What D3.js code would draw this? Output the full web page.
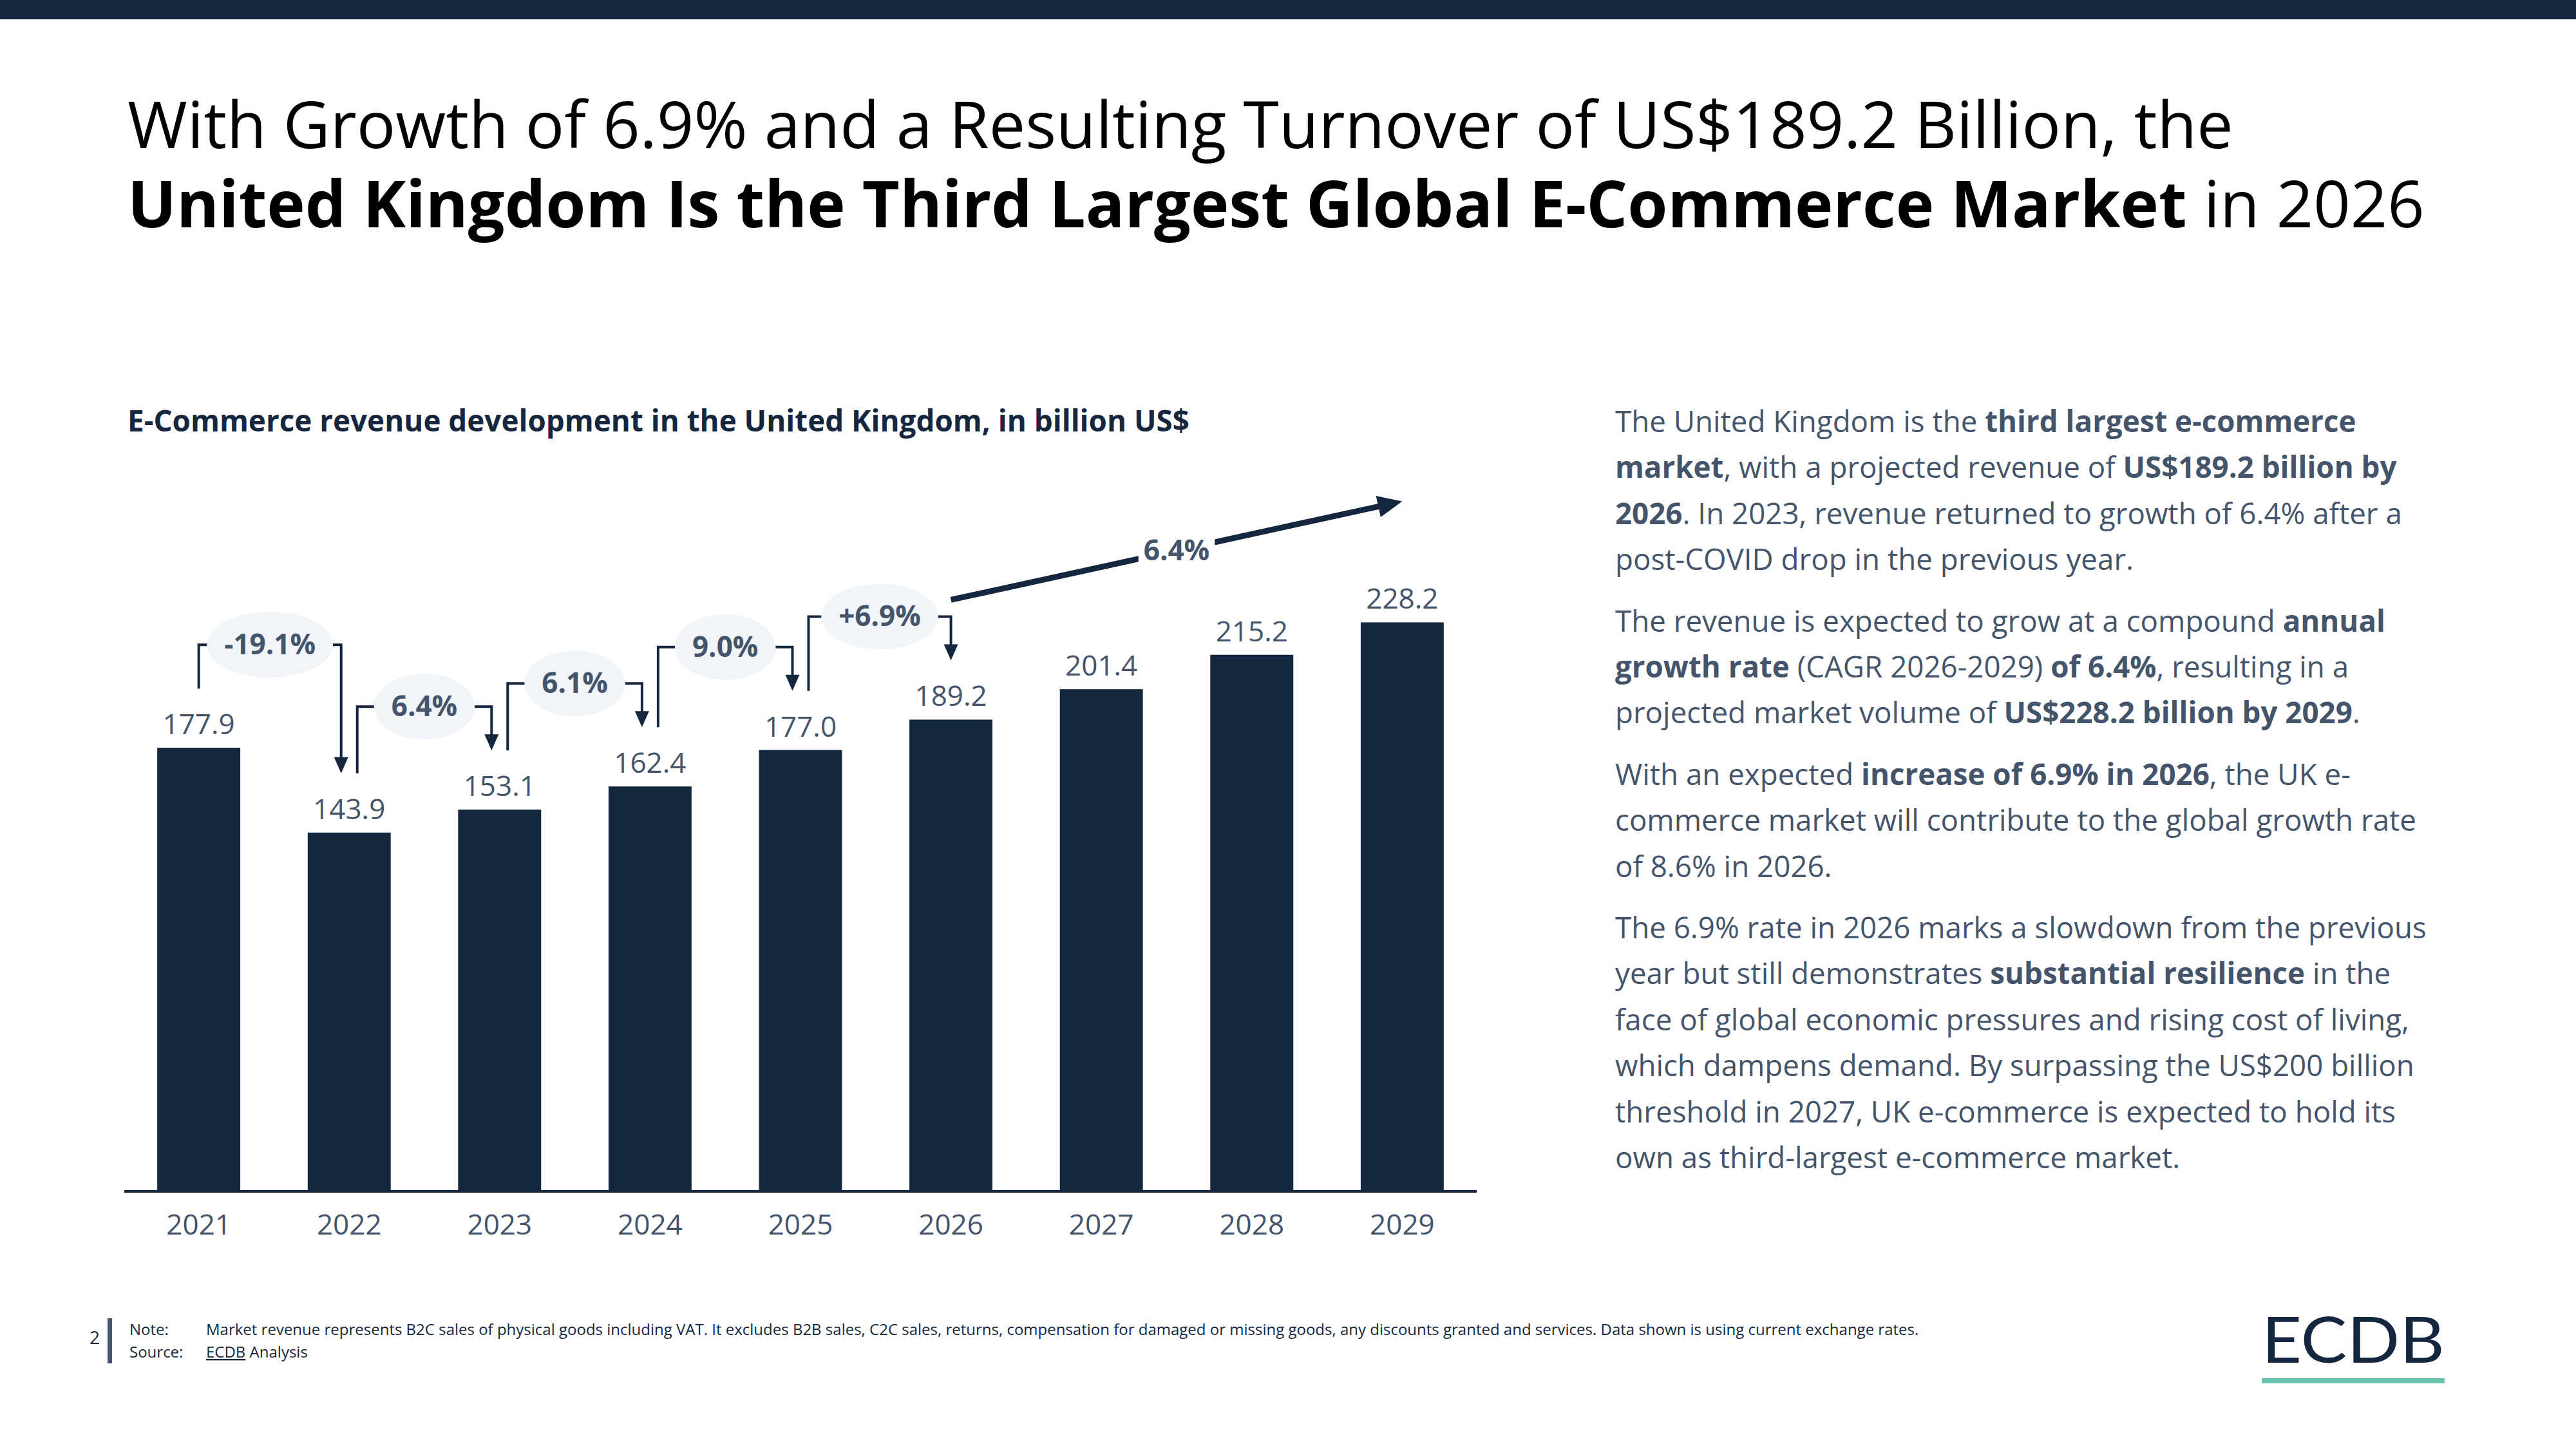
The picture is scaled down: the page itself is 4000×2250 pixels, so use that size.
<!DOCTYPE html>
<html>
<head>
<meta charset="utf-8">
<script src="https://cdn.jsdelivr.net/npm/d3@7"></script>
<style>
  body { margin: 0; background: #fff; }
  svg { display: block; font-family: "Open Sans", "Noto Sans", sans-serif; }
</style>
</head>
<body>
<div class="chart"></div>
<script>
// data
const years = ["2021", "2022", "2023", "2024", "2025", "2026", "2027", "2028", "2029"]
const revenue = [177.9, 143.9, 153.1, 162.4, 177.0, 189.2, 201.4, 215.2, 228.2]
const growthLabels = ["-19.1%", "6.4%", "6.1%", "9.0%", "+6.9%"]
const cagrLabel = "6.4%"
const cagrFrom = "2026"
const cagrTo = "2029"

// right side text, [text, bold] runs per line, and paragraph number
const panelLines = [
	[0, [["The United Kingdom is the ", 0], ["third largest e-commerce", 1]]],
	[0, [["market", 1], [", with a projected revenue of ", 0], ["US$189.2 billion by", 1]]],
	[0, [["2026", 1], [". In 2023, revenue returned to growth of 6.4% after a", 0]]],
	[0, [["post-COVID drop in the previous year.", 0]]],
	[1, [["The revenue is expected to grow at a compound ", 0], ["annual", 1]]],
	[1, [["growth rate", 1], [" (CAGR 2026-2029) ", 0], ["of 6.4%", 1], [", resulting in a", 0]]],
	[1, [["projected market volume of ", 0], ["US$228.2 billion by 2029", 1], [".", 0]]],
	[2, [["With an expected ", 0], ["increase of 6.9% in 2026", 1], [", the UK e-", 0]]],
	[2, [["commerce market will contribute to the global growth rate", 0]]],
	[2, [["of 8.6% in 2026.", 0]]],
	[3, [["The 6.9% rate in 2026 marks a slowdown from the previous", 0]]],
	[3, [["year but still demonstrates ", 0], ["substantial resilience", 1], [" in the", 0]]],
	[3, [["face of global economic pressures and rising cost of living,", 0]]],
	[3, [["which dampens demand. By surpassing the US$200 billion", 0]]],
	[3, [["threshold in 2027, UK e-commerce is expected to hold its", 0]]],
	[3, [["own as third-largest e-commerce market.", 0]]]
]

const navy = "#14273f"
const grey = "#44546a"
const bubbleFill = "#f1f5f9"

let width = 4000
let height = 2250

let svg = d3.select(".chart")
	.append("svg")
	.attr("width", width)
	.attr("height", height)

// top band
svg.append("rect")
	.attr("x", 0).attr("y", 0)
	.attr("width", width).attr("height", 30)
	.attr("fill", navy)

// title, one text per line
svg.append("text")
	.attr("x", 198).attr("y", 230)
	.attr("fill", "#000")
	.style("font-size", "100.5px")
	.text("With Growth of 6.9% and a Resulting Turnover of US$189.2 Billion, the")
let title2 = svg.append("text")
	.attr("x", 198).attr("y", 353)
	.attr("fill", "#000")
	.style("font-size", "100.5px")
title2.append("tspan")
	.style("font-weight", "bold")
	.text("United Kingdom Is the Third Largest Global E-Commerce Market")
title2.append("tspan")
	.text(" in 2026")

svg.append("text")
	.attr("x", 198).attr("y", 670)
	.attr("fill", navy)
	.style("font-size", "45.8px")
	.style("font-weight", "bold")
	.text("E-Commerce revenue development in the United Kingdom, in billion US$")

// scales
let x = d3.scaleBand()
	.domain(years)
	.range([193, 2293])
	.paddingInner(0.448)
	.paddingOuter(0.219)

let y = d3.scaleLinear()
	.domain([0, 250])
	.range([1850, 882])

const cx = d => x(d) + x.bandwidth() / 2

// bars
svg.selectAll("rect.bar")
	.data(years)
	.join("rect")
	.attr("class", "bar")
	.attr("x", d => x(d))
	.attr("y", (d, i) => y(revenue[i]))
	.attr("width", x.bandwidth())
	.attr("height", (d, i) => y(0) - y(revenue[i]))
	.attr("fill", navy)

// value labels
svg.selectAll("text.val")
	.data(years)
	.join("text")
	.attr("class", "val")
	.attr("x", d => cx(d))
	.attr("y", (d, i) => y(revenue[i]) - 21)
	.attr("text-anchor", "middle")
	.attr("fill", grey)
	.style("font-size", "44px")
	.text((d, i) => revenue[i].toFixed(1))

// x axis
let xAxis = svg.append("g")
	.attr("transform", `translate(0,${y(0)})`)
	.call(d3.axisBottom(x).tickSize(0).tickPadding(36))
xAxis.select(".domain")
	.attr("d", "M193,0H2293")
	.attr("stroke", navy)
	.attr("stroke-width", 4)
xAxis.selectAll("text")
	.attr("fill", grey)
	.style("font-family", "'Open Sans', sans-serif")
	.style("font-size", "44px")

// growth brackets between consecutive years
let brackets = svg.append("g")
growthLabels.forEach(function (label, i) {
	const a = years[i], b = years[i + 1]
	const ya = y(revenue[i]), yb = y(revenue[i + 1])
	const x0 = i == 0 ? cx(a) : cx(a) + 12.5
	const x1 = i + 1 == growthLabels.length ? cx(b) : cx(b) - 12.5
	const y0 = ya - 92
	const tip = yb - 92
	const level = Math.min(ya, yb) - 160

	brackets.append("path")
		.attr("d", `M${x0},${y0}V${level}H${x1}V${tip - 22}`)
		.attr("fill", "none")
		.attr("stroke", navy)
		.attr("stroke-width", 4)
	brackets.append("path")
		.attr("d", `M${x1 - 11},${tip - 25}L${x1 + 11},${tip - 25}L${x1},${tip}Z`)
		.attr("fill", navy)

	const mx = (x0 + x1) / 2
	let bubble = brackets.append("ellipse")
		.attr("cx", mx).attr("cy", level)
		.attr("ry", 51)
		.attr("fill", bubbleFill)
	let t = brackets.append("text")
		.attr("x", mx).attr("y", level + 15)
		.attr("text-anchor", "middle")
		.attr("fill", grey)
		.style("font-size", "44px")
		.style("font-weight", "bold")
		.text(label)
	bubble.attr("rx", t.node().getComputedTextLength() / 2 + 27)
})

// CAGR arrow
const iFrom = years.indexOf(cagrFrom), iTo = years.indexOf(cagrTo)
const p0 = [cx(cagrFrom), y(revenue[iFrom]) - 186]
const p1 = [cx(cagrTo), y(revenue[iTo]) - 188]
const ang = Math.atan2(p1[1] - p0[1], p1[0] - p0[0])
const headLen = 38, headW = 17
const base = [p1[0] - headLen * Math.cos(ang), p1[1] - headLen * Math.sin(ang)]
svg.append("line")
	.attr("x1", p0[0]).attr("y1", p0[1])
	.attr("x2", base[0] + 2 * Math.cos(ang)).attr("y2", base[1] + 2 * Math.sin(ang))
	.attr("stroke", navy)
	.attr("stroke-width", 9)
svg.append("path")
	.attr("d", `M${p1[0]},${p1[1]}L${base[0] - headW * Math.sin(ang)},${base[1] + headW * Math.cos(ang)}L${base[0] + headW * Math.sin(ang)},${base[1] - headW * Math.cos(ang)}Z`)
	.attr("fill", navy)
const mid = [(p0[0] + p1[0]) / 2, (p0[1] + p1[1]) / 2]
let cagrBg = svg.append("rect").attr("fill", "#fff")
let cagrText = svg.append("text")
	.attr("x", mid[0]).attr("y", mid[1] + 15)
	.attr("text-anchor", "middle")
	.attr("fill", grey)
	.style("font-size", "44px")
	.style("font-weight", "bold")
	.text(cagrLabel)
let bb = cagrText.node().getBBox()
cagrBg.attr("x", bb.x - 8).attr("y", bb.y - 4).attr("width", bb.width + 16).attr("height", bb.height + 8)

// right text panel
let panel = svg.append("g")
panelLines.forEach(function (line, i) {
	let t = panel.append("text")
		.attr("x", 2508)
		.attr("y", 671 + i * 71.4 + line[0] * 24)
		.attr("fill", grey)
		.style("font-size", "45.7px")
	line[1].forEach(function (run) {
		t.append("tspan")
			.style("font-weight", run[1] ? "bold" : "normal")
			.text(run[0])
	})
})

// footer
svg.append("text")
	.attr("x", 139).attr("y", 2087)
	.attr("fill", navy)
	.style("font-size", "28px")
	.text("2")
svg.append("rect")
	.attr("x", 167).attr("y", 2047)
	.attr("width", 7).attr("height", 70)
	.attr("fill", grey)
let note = svg.append("g")
	.attr("fill", navy)
	.style("font-size", "24px")
note.append("text").attr("x", 201).attr("y", 2073).text("Note:")
note.append("text").attr("x", 320).attr("y", 2073)
	.text("Market revenue represents B2C sales of physical goods including VAT. It excludes B2B sales, C2C sales, returns, compensation for damaged or missing goods, any discounts granted and services. Data shown is using current exchange rates.")
note.append("text").attr("x", 201).attr("y", 2108).text("Source:")
let src = note.append("text").attr("x", 320).attr("y", 2108)
src.append("tspan").attr("text-decoration", "underline").text("ECDB")
src.append("tspan").text(" Analysis")

// logo
svg.append("text")
	.attr("x", 3512).attr("y", 2116)
	.attr("fill", navy)
	.attr("textLength", 284)
	.attr("lengthAdjust", "spacingAndGlyphs")
	.style("font-family", "Lato, sans-serif")
	.style("font-size", "98px")
	.text("ECDB")
svg.append("rect")
	.attr("x", 3512).attr("y", 2140)
	.attr("width", 284).attr("height", 8)
	.attr("fill", "#6cc4b0")
</script>
</body>
</html>
